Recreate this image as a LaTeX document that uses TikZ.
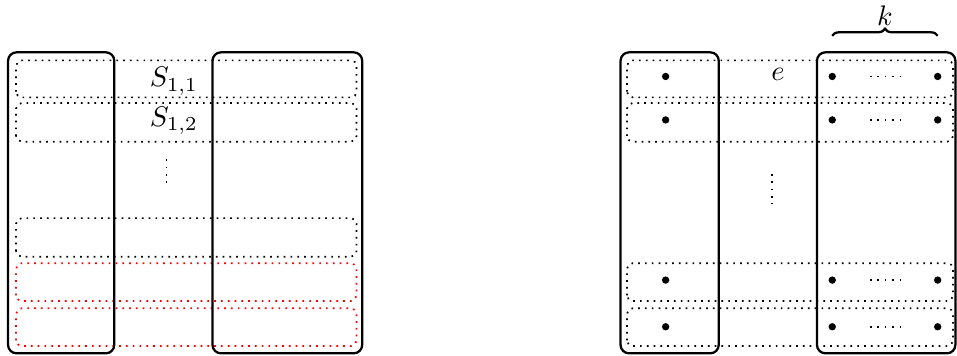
\documentclass[tikz,border=0pt]{standalone}
\usepackage{amsmath}
\usepackage{tikz}
\usetikzlibrary{decorations.pathreplacing}

\begin{document}
\begin{tikzpicture}[
  col/.style  ={thick, rounded corners=3pt},
  row/.style  ={line width=0.6pt, dash pattern=on 0.6pt off 1.8pt, rounded corners=2pt},
  badrow/.style ={row, red},
  pt/.style   ={circle, fill, inner sep=0pt, minimum size=2.6pt},
  gap/.style  ={line width=0.6pt, dotted},
  lbl/.style  ={inner sep=1pt}
]
  \useasboundingbox (0,0) rectangle (11.89,4.42);

  % left picture
  \draw[row]    (0.20,3.21) rectangle (4.43,3.67);
  \draw[row]    (0.20,2.66) rectangle (4.43,3.14);
  \draw[row]    (0.20,1.23) rectangle (4.43,1.71);
  \draw[badrow] (0.20,0.68) rectangle (4.43,1.15);
  \draw[badrow] (0.20,0.12) rectangle (4.43,0.59);
  \draw[col] (0.10,0.03) rectangle (1.42,3.77);
  \draw[col] (2.64,0.03) rectangle (4.50,3.77);
  \node[lbl] (s11) at (2.16,3.41) {$S_{1,1}$};
  \node[lbl] (s12) at (2.16,2.92) {$S_{1,2}$};
  \draw[gap] (2.07,2.44) -- (2.07,2.08);

  % right picture
  \draw[row] (7.79,3.21) rectangle (11.84,3.67);
  \draw[row] (7.79,2.66) rectangle (11.84,3.14);
  \draw[row] (7.79,0.68) rectangle (11.84,1.15);
  \draw[row] (7.79,0.12) rectangle (11.84,0.59);
  \draw[col] (7.71,0.03) rectangle (8.93,3.77);
  \draw[col] (10.15,0.03) rectangle (11.87,3.77);

  \node[lbl] (e) at (9.665,3.49) {$e$};
  \draw[gap] (9.59,2.26) -- (9.59,1.89);

  \node[pt] (a1) at (8.27,3.47) {};  \node[pt] (b1) at (10.34,3.47) {};  \node[pt] (c1) at (11.65,3.47) {};
  \node[pt] (a2) at (8.27,2.93) {};  \node[pt] (b2) at (10.34,2.93) {};  \node[pt] (c2) at (11.65,2.93) {};
  \node[pt] (a3) at (8.27,0.94) {};  \node[pt] (b3) at (10.34,0.94) {};  \node[pt] (c3) at (11.65,0.94) {};
  \node[pt] (a4) at (8.27,0.36) {};  \node[pt] (b4) at (10.34,0.36) {};  \node[pt] (c4) at (11.65,0.36) {};
  \draw[gap] (10.81,3.47) -- (11.21,3.47);
  \draw[gap] (10.81,2.93) -- (11.21,2.93);
  \draw[gap] (10.81,0.94) -- (11.21,0.94);
  \draw[gap] (10.81,0.36) -- (11.21,0.36);

  \draw[thick, decorate, decoration={brace}]
    (10.34,3.975) -- (11.65,3.975) node[midway, above] (k) {$k$};
\end{tikzpicture}
\end{document}
